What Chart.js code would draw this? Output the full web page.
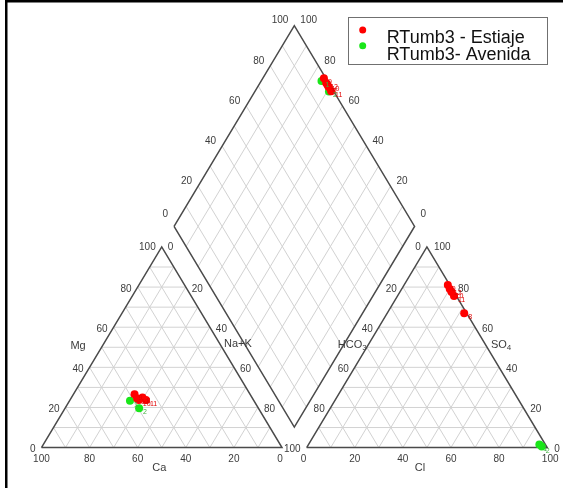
<!DOCTYPE html>
<html>
<head>
<meta charset="utf-8">
<script src="https://cdn.jsdelivr.net/npm/chart.js@4.4.0/dist/chart.umd.min.js"></script>
<style>
  html, body { margin: 0; padding: 0; background: #fff; }
  canvas { display: block; }
</style>
</head>
<body>
<canvas id="piperChart" width="563" height="488"></canvas>
<script>
// sample values, % of meq/L
const estiajeIds = ['9', '10', '11', '8', '12'];
const estiajeMg = [26.6, 23.7, 23.7, 25.0, 24.5];
const estiajeNaK = [25.4, 28.6, 31.6, 29.5, 27.5];
const estiajeSO4 = [81.0, 77.5, 75.5, 67.0, 79.0];
const estiajeCl = [18.2, 21.5, 23.5, 32.0, 20.0];

const avenidaIds = ['1', '2'];
const avenidaMg = [23.4, 19.6];
const avenidaNaK = [25.1, 30.8];
const avenidaSO4 = [1.5, 0.5];
const avenidaCl = [96.0, 97.5];

const tickLabels = [0, 20, 40, 60, 80, 100];
const gridSteps = [10, 20, 30, 40, 50, 60, 70, 80, 90];

const H = Math.sqrt(3) / 2;
const GAP = 0.1025;

// ternary -> diagram units
function cation(mg, nak) {
    return { x: nak / 100 + mg / 200, y: mg / 100 * H };
}
function anion(so4, cl) {
    return { x: 1 + GAP + cl / 100 + so4 / 200, y: so4 / 100 * H };
}
function diamond(nak, s) {
    const n = nak / 100, t = s / 100;
    return { x: (n + 1 + GAP + t) / 2, y: H * (1 + GAP + t - n) };
}

function buildPoints(mg, nak, so4, cl) {
    const pts = [];
    for (let i = 0; i < mg.length; i++) {
        pts.push(cation(mg[i], nak[i]));
        pts.push(anion(so4[i], cl[i]));
        pts.push(diamond(nak[i], so4[i] + cl[i]));
    }
    return pts;
}
function buildIds(ids) {
    const out = [];
    ids.forEach(id => { out.push(id, id, id); });
    return out;
}

const gridColor = '#d2d2d2';
const edgeColor = '#4a4a4a';

function lineSet(a, b, color, width, order) {
    return {
        type: 'scatter',
        data: [a, b],
        showLine: true,
        borderColor: color,
        borderWidth: width,
        pointRadius: 0,
        fill: false,
        order: order
    };
}

const datasets = [];

datasets.push({
    label: 'RTumb3 - Estiaje',
    data: buildPoints(estiajeMg, estiajeNaK, estiajeSO4, estiajeCl),
    ids: buildIds(estiajeIds),
    backgroundColor: '#ff0000',
    borderWidth: 0,
    pointRadius: 4,
    order: 0
});
datasets.push({
    label: 'RTumb3- Avenida',
    data: buildPoints(avenidaMg, avenidaNaK, avenidaSO4, avenidaCl),
    ids: buildIds(avenidaIds),
    backgroundColor: '#19e619',
    borderWidth: 0,
    pointRadius: 4,
    order: 1
});

// grid every 10 %
gridSteps.forEach(t => {
    datasets.push(lineSet(cation(t, 0), cation(t, 100 - t), gridColor, 1, 3));
    datasets.push(lineSet(cation(0, t), cation(100 - t, t), gridColor, 1, 3));
    datasets.push(lineSet(cation(100 - t, 0), cation(0, 100 - t), gridColor, 1, 3));
    datasets.push(lineSet(anion(t, 0), anion(t, 100 - t), gridColor, 1, 3));
    datasets.push(lineSet(anion(0, t), anion(100 - t, t), gridColor, 1, 3));
    datasets.push(lineSet(anion(100 - t, 0), anion(0, 100 - t), gridColor, 1, 3));
    datasets.push(lineSet(diamond(t, 0), diamond(t, 100), gridColor, 1, 3));
    datasets.push(lineSet(diamond(0, t), diamond(100, t), gridColor, 1, 3));
});

// outlines
const outlines = [
    [cation(0, 0), cation(0, 100), cation(100, 0), cation(0, 0)],
    [anion(0, 0), anion(0, 100), anion(100, 0), anion(0, 0)],
    [diamond(0, 0), diamond(0, 100), diamond(100, 100), diamond(100, 0), diamond(0, 0)]
];
outlines.forEach(poly => {
    datasets.push({
        type: 'scatter',
        data: poly,
        showLine: true,
        borderColor: edgeColor,
        borderWidth: 1.5,
        pointRadius: 0,
        fill: false,
        order: 2
    });
});

function px(chart, pt) {
    return {
        x: chart.scales.x.getPixelForValue(pt.x),
        y: chart.scales.y.getPixelForValue(pt.y)
    };
}

function subText(ctx, main, sub, x, y) {
    ctx.font = '11px "Liberation Sans", Arial, sans-serif';
    const w1 = ctx.measureText(main).width;
    ctx.font = '8px "Liberation Sans", Arial, sans-serif';
    const w2 = ctx.measureText(sub).width;
    const left = x - (w1 + w2) / 2;
    ctx.textAlign = 'left';
    ctx.font = '11px "Liberation Sans", Arial, sans-serif';
    ctx.fillText(main, left, y);
    ctx.font = '8px "Liberation Sans", Arial, sans-serif';
    ctx.fillText(sub, left + w1, y + 3);
}

const piperDecor = {
    id: 'piperDecor',
    beforeDraw(chart) {
        const ctx = chart.ctx;
        ctx.save();
        ctx.fillStyle = '#fff';
        ctx.fillRect(0, 0, chart.width, chart.height);
        ctx.fillStyle = '#000';
        ctx.fillRect(5, 0, 2.5, chart.height);
        ctx.fillRect(5, 0, chart.width - 5, 2.5);
        ctx.restore();
    },
    afterDatasetsDraw(chart) {
        const ctx = chart.ctx;
        ctx.save();
        ctx.fillStyle = '#3c3c3c';
        ctx.font = '10px "Liberation Sans", Arial, sans-serif';
        ctx.textBaseline = 'middle';

        const put = (text, pt, dx, dy, align) => {
            const p = px(chart, pt);
            ctx.textAlign = align;
            ctx.fillText(text, p.x + dx, p.y + dy);
        };

        tickLabels.forEach(v => {
            const s = String(v);
            put(s, cation(v, 0), -6, v === 100 ? 0 : 2, 'right');
            // Na+K 100 shares its spot with HCO3 100
            if (v !== 100) put(s, cation(100 - v, v), 6, v === 0 ? 0 : 2, 'left');
            put(s, cation(0, 100 - v), v === 0 ? -2 : 0, 12, 'center');
            put(s, anion(100 - v, 0), -6, v === 0 ? 0 : 2, 'right');
            put(s, anion(v, 100 - v), 7, v === 100 ? 0 : 2, 'left');
            put(s, anion(0, v), v === 0 ? -3 : (v === 100 ? 3 : 0), 12, 'center');
            put(s, diamond(0, v), -6, v === 0 ? -12 : -5, 'right');
            put(s, diamond(100 - v, 100), 6, v === 0 ? -12 : -5, 'left');
        });

        ctx.font = '11px "Liberation Sans", Arial, sans-serif';
        put('Mg', cation(50, 0), -23.5, -1.5, 'center');
        put('Na+K', cation(50, 50), 16, -3, 'center');
        put('Ca', cation(0, 50), -2.5, 20, 'center');
        put('Cl', anion(0, 50), -7, 20, 'center');
        let p = px(chart, anion(50, 0));
        subText(ctx, 'HCO', '3', p.x - 14.5, p.y - 2);
        p = px(chart, anion(50, 50));
        subText(ctx, 'SO', '4', p.x + 14, p.y - 2);

        // sample ids next to points
        ctx.font = '7px "Liberation Sans", Arial, sans-serif';
        ctx.textAlign = 'left';
        [0, 1].forEach(di => {
            const ds = chart.data.datasets[di];
            const meta = chart.getDatasetMeta(di);
            ctx.fillStyle = di === 0 ? '#e00000' : '#40b040';
            meta.data.forEach((el, j) => {
                ctx.fillText(ds.ids[j], el.x + 4, el.y + 4);
            });
        });

        // legend
        ctx.strokeStyle = '#707070';
        ctx.lineWidth = 1;
        ctx.strokeRect(348.5, 17.5, 199, 47);
        ctx.fillStyle = '#ff0000';
        ctx.beginPath();
        ctx.arc(362.7, 30, 3.5, 0, Math.PI * 2);
        ctx.fill();
        ctx.fillStyle = '#19e619';
        ctx.beginPath();
        ctx.arc(362.7, 45.7, 3.5, 0, Math.PI * 2);
        ctx.fill();
        ctx.fillStyle = '#111';
        ctx.font = '18px "Liberation Sans", Arial, sans-serif';
        ctx.textAlign = 'left';
        ctx.textBaseline = 'alphabetic';
        ctx.fillText(chart.data.datasets[0].label, 386.7, 43);
        ctx.fillText(chart.data.datasets[1].label, 386.7, 60);
        ctx.restore();
    }
};

const chartCtx = document.getElementById('piperChart').getContext('2d');
const piperChart = new Chart(chartCtx, {
    type: 'scatter',
    data: { datasets: datasets },
    options: {
        responsive: false,
        animation: false,
        events: [],
        layout: { padding: 0 },
        plugins: {
            legend: { display: false },
            tooltip: { enabled: false }
        },
        scales: {
            x: { type: 'linear', display: false, min: -0.15574, max: 2.15164 },
            y: { type: 'linear', display: false, min: -0.15707, max: 1.91459 }
        }
    },
    plugins: [piperDecor]
});
</script>
</body>
</html>
